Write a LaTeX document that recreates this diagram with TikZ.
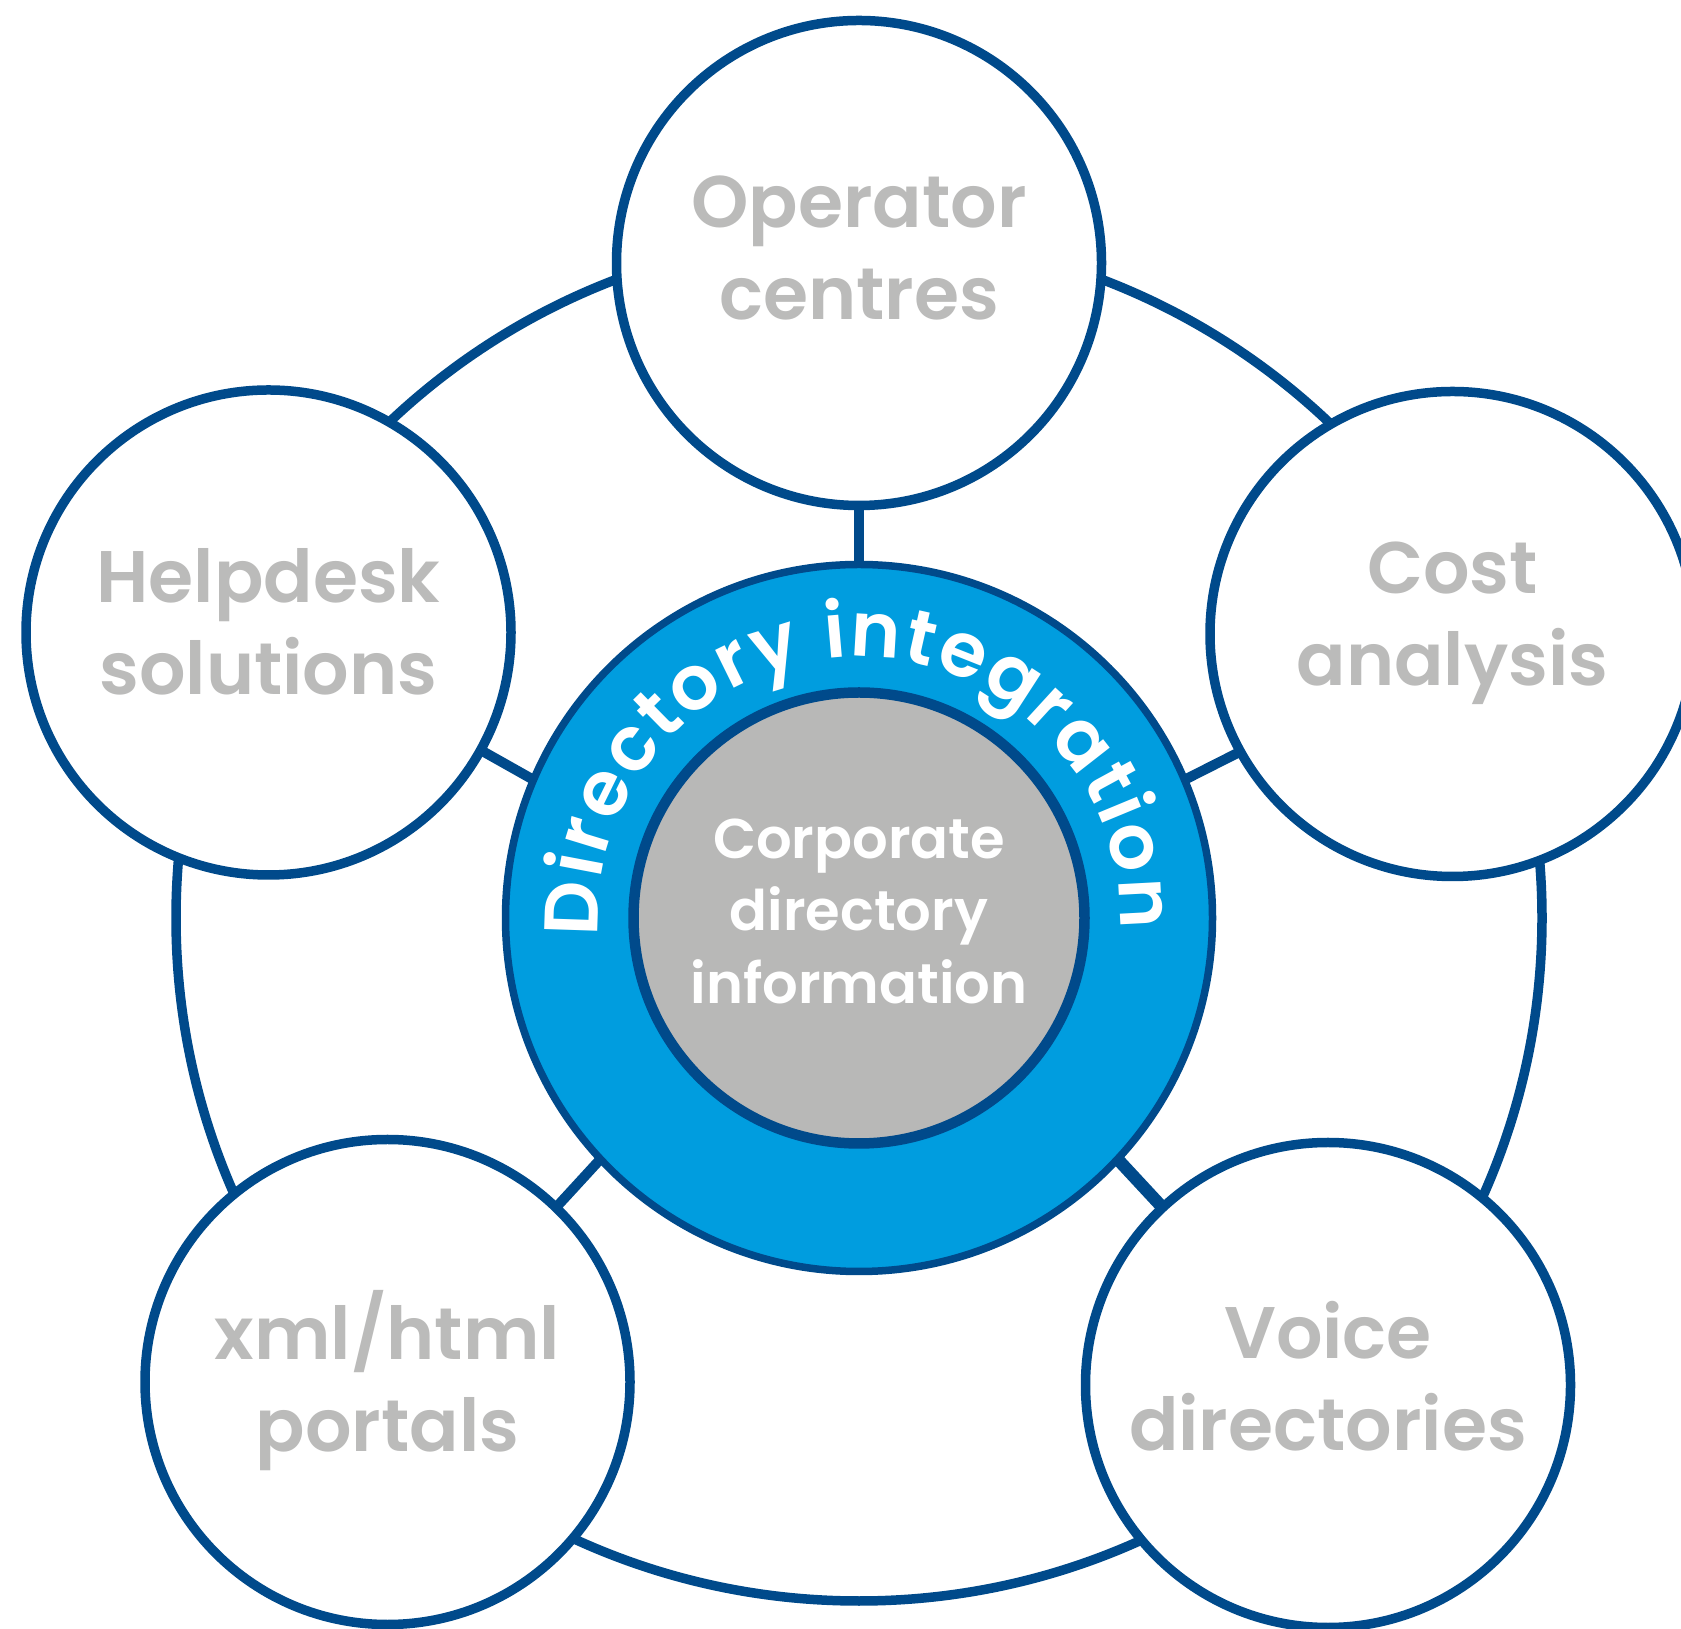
\documentclass[tikz,border=0pt]{standalone}
\usepackage{fontspec}
\setmainfont{Poppins}[BoldFont={* SemiBold}]
\usepackage{tikz}
\usetikzlibrary{backgrounds, decorations.text, calc}
\definecolor{RingBlue}{HTML}{004A8B}
\definecolor{HubBlue}{HTML}{009DDF}
\definecolor{CoreGrey}{HTML}{B8B8B7}
\definecolor{LabelGrey}{HTML}{BBBBBA}
\tikzset{
  % Circle styles
  topicbox/.style={circle, draw=RingBlue, line width=9.5pt, fill=white, minimum size=485pt, inner sep=0pt, outer sep=0pt},
  hubbox/.style={circle, draw=RingBlue, line width=7.5pt, fill=HubBlue, minimum size=707pt, inner sep=0pt, outer sep=0pt},
  corebox/.style={circle, draw=RingBlue, line width=10.5pt, fill=CoreGrey, minimum size=451pt, inner sep=0pt, outer sep=0pt},
  % Text styles
  topictext/.style={font=\bfseries\fontsize{73}{92}\selectfont, text=LabelGrey, align=center, inner sep=0pt},
  coretext/.style={font=\bfseries\fontsize{56}{72.5}\selectfont, text=white, align=center, inner sep=0pt},
  % Line styles
  linkline/.style={RingBlue, line width=10pt},
  ringline/.style={RingBlue, line width=9.5pt}
}

\begin{document}
\begin{tikzpicture}[x=1pt, y=1pt]
  \useasboundingbox (0,0) rectangle (1681,1628);

  % Hub in the middle
  \node[hubbox] (hub) at (859,710) {};
  \node[corebox] (core) at (hub) {};
  \node[coretext] (coretxt) at ([yshift=7pt]core.center) {Corporate\\directory\\information};

  % Topics round the hub
  \node[topicbox] (operator) at (859,1365) {};
  \node[topicbox] (helpdesk) at (268.5,995.5) {};
  \node[topicbox] (cost) at (1452.5,994) {};
  \node[topicbox] (portals) at (387.5,246) {};
  \node[topicbox] (voice) at (1328,243) {};

  \node[topictext] (operatortxt) at ([yshift=15pt]operator.center) {Operator\\centres};
  \node[topictext] (helpdesktxt) at ([yshift=10.7pt]helpdesk.center) {Helpdesk\\solutions};
  \node[topictext] (costtxt) at ([yshift=10.5pt]cost.center) {Cost\\analysis};
  \node[topictext] (portalstxt) at ([yshift=1pt]portals.center) {xml/html\\portals};
  \node[topictext] (voicetxt) at ([yshift=8.7pt]voice.center) {Voice\\directories};

  % Curved title
  \path[decorate, decoration={text along path, text align=fit to path, text color=white,
    text={|\bfseries\fontsize{76}{92}\selectfont|Directory integration}}]
    (hub.center) ++(184:261) arc[start angle=184, end angle=-2.5, radius=261];

  % Ring and links
  \begin{scope}[on background layer]
    \fill[white] (0,0) rectangle (1681,1628);
    \draw[ringline] (hub.center) circle[radius=683];
    \draw[linkline] (operator.-90) -- (hub.90);
    \draw[linkline] (helpdesk.-29.6) -- (hub.157.3);
    \draw[linkline] (cost.209.3) -- (hub.23.3);
    \draw[linkline] (portals.46.2) -- (hub.223.7);
    \draw[linkline, line width=12.5pt] (voice.133) -- (hub.-43.6);
  \end{scope}
\end{tikzpicture}
\end{document}
